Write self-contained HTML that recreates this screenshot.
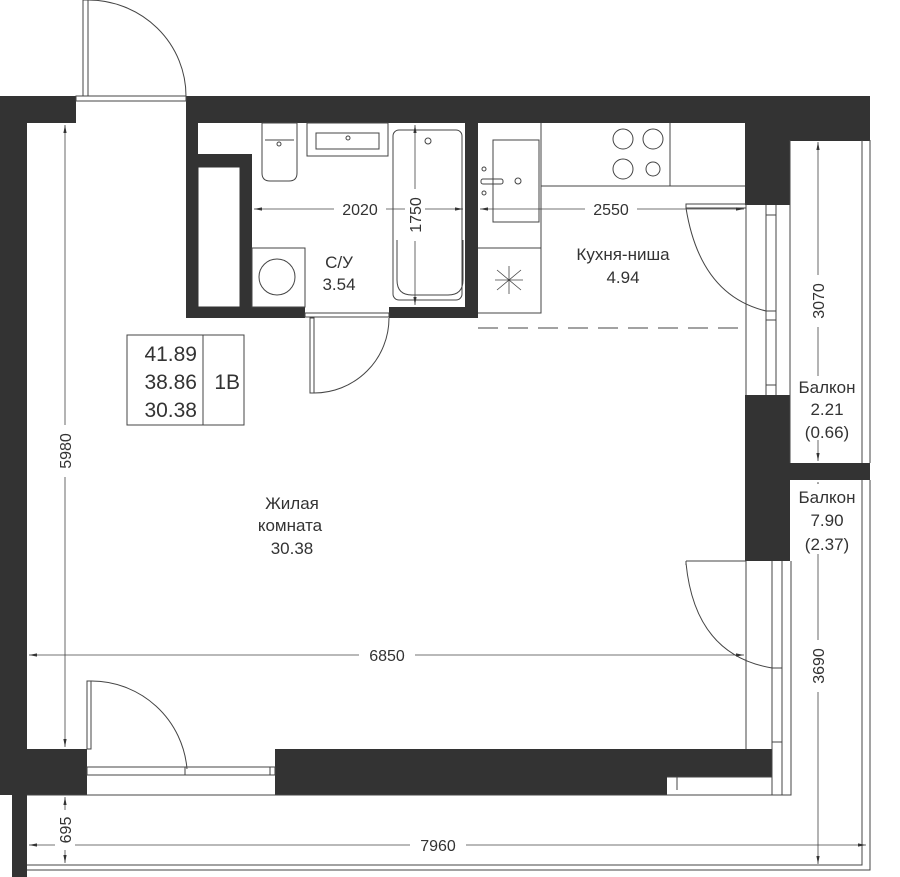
<!DOCTYPE html>
<html><head><meta charset="utf-8"><style>
html,body{margin:0;padding:0;background:#fff}
svg{display:block}
text{font-family:"Liberation Sans",sans-serif;fill:#333}
</style></head><body>
<svg width="900" height="877" viewBox="0 0 900 877" xmlns="http://www.w3.org/2000/svg">
<defs>
<marker id="a" viewBox="0 0 10 6" refX="10" refY="3" markerWidth="10" markerHeight="6" orient="auto-start-reverse"><path d="M0,1 L10,3 L0,5z" fill="#333"/></marker>
</defs>
<g fill="#333">
<rect x="0" y="96" width="76" height="27"/>
<rect x="0" y="96" width="27" height="654"/>
<rect x="186" y="96" width="684" height="27"/>
<rect x="745" y="96" width="125" height="45"/>
<rect x="745" y="96" width="45" height="109"/>
<rect x="745" y="395" width="45" height="166"/>
<rect x="790" y="463" width="80" height="17"/>
<rect x="0" y="749" width="87" height="46"/>
<rect x="275" y="749" width="497" height="28"/>
<rect x="275" y="749" width="392" height="46"/>
<rect x="12" y="795" width="15" height="82"/>
<rect x="186" y="96" width="12" height="222"/>
<rect x="186" y="307" width="119" height="11"/>
<rect x="389" y="307" width="89" height="11"/>
<rect x="465" y="96" width="13" height="222"/>
<rect x="186" y="154" width="66" height="13"/>
<rect x="240" y="154" width="12" height="153"/>
</g>
<g fill="none" stroke="#444" stroke-width="1">
<rect x="83" y="0" width="5" height="96"/>
<path d="M88,0 A98,96 0 0 1 186,96"/>
<rect x="76" y="96" width="110" height="5"/>
<rect x="305" y="313" width="84" height="4"/>
<rect x="310" y="318" width="4" height="75"/>
<path d="M314,393 A75,75 0 0 0 389,318"/>
<path d="M262,123 h35 v50 q0,8 -8,8 h-19 q-8,0 -8,-8z"/>
<path d="M265,140 h29"/>
<circle cx="279" cy="144" r="2"/>
<rect x="307" y="123" width="81" height="33"/>
<rect x="316" y="133" width="63" height="16"/>
<circle cx="348" cy="138" r="2"/>
<rect x="393" y="130" width="69" height="170" rx="6"/>
<path d="M397,240 v40 q0,15 15,15 h36 q15,0 15,-15 v-40"/>
<circle cx="428" cy="141" r="3"/>
<rect x="252" y="248" width="53" height="59"/>
<circle cx="277" cy="277" r="18"/>
<rect x="198" y="167" width="42" height="140" stroke="#333"/>
<path d="M541,123 V313 H478"/>
<path d="M541,186 H745"/>
<path d="M670,123 V186"/>
<path d="M478,248 H541"/>
<rect x="493" y="140" width="46" height="82"/>
<rect x="481" y="179" width="22" height="5" rx="2"/>
<circle cx="484" cy="169" r="2"/><circle cx="484" cy="193" r="2"/><circle cx="518" cy="181" r="3"/>
<circle cx="623" cy="139" r="10"/><circle cx="653" cy="139" r="10"/>
<circle cx="623" cy="169" r="10"/><circle cx="653" cy="169" r="7"/>
<path d="M497,270 l24,20 M497,290 l24,-20 M509,266 v28 M495,280 h28" stroke-width="0.8"/>
<path d="M478,328 H745" stroke-dasharray="20,10"/>
<rect x="686" y="204" width="60" height="4"/>
<path d="M686,208 Q700,295 766,311"/>
<path d="M746,205 V395 M766,205 V395 M776,205 V395 M790,140 V463"/>
<path d="M766,215 h10 M766,311 h10 M766,320 h10 M766,385 h10"/>
<path d="M746,561 V749 M772,561 V795 M782,561 V795 M791,561 V795 H27"/>
<path d="M772,668 h10 M772,742 h10"/>
<path d="M686,561 H746 M686,561 v4"/>
<path d="M686,563 Q695,655 772,668"/>
<rect x="87" y="681" width="4" height="68"/>
<path d="M91,681 A96,96 0 0 1 187,769"/>
<rect x="87" y="767" width="188" height="8"/>
<path d="M185,767 v8 M270,767 v8"/>
<path d="M667,777 H772 M677,777 V790"/>
<path d="M862,140 V463 M870,140 V463"/>
<path d="M862,480 V865 H27 M870,480 V870 H27"/>
<rect x="127" y="335" width="117" height="90"/>
<path d="M203,335 V425"/>
</g>
<g stroke="#444" stroke-width="0.8" fill="none">
<path d="M65,125 V747" marker-start="url(#a)" marker-end="url(#a)"/>
<path d="M29,655 H744" marker-start="url(#a)" marker-end="url(#a)"/>
<path d="M254,209 H463" marker-start="url(#a)" marker-end="url(#a)"/>
<path d="M415,125 V305" marker-start="url(#a)" marker-end="url(#a)"/>
<path d="M480,209 H744" marker-start="url(#a)" marker-end="url(#a)"/>
<path d="M818,142 V461" marker-start="url(#a)" marker-end="url(#a)"/>
<path d="M818,482 V864" marker-start="url(#a)" marker-end="url(#a)"/>
<path d="M65,797 V863" marker-start="url(#a)" marker-end="url(#a)"/>
<path d="M29,845 H866" marker-start="url(#a)" marker-end="url(#a)"/>
</g>
<g font-size="16" text-anchor="middle">
<rect x="334" y="199" width="52" height="20" fill="#fff"/><text x="360" y="215">2020</text>
<rect x="585" y="199" width="52" height="20" fill="#fff"/><text x="611" y="215">2550</text>
<rect x="359" y="645" width="56" height="20" fill="#fff"/><text x="387" y="661">6850</text>
<rect x="410" y="835" width="56" height="20" fill="#fff"/><text x="438" y="851">7960</text>
<rect x="405" y="189" width="20" height="52" fill="#fff"/><text transform="translate(421,215) rotate(-90)">1750</text>
<rect x="55" y="425" width="20" height="52" fill="#fff"/><text transform="translate(71,451) rotate(-90)">5980</text>
<rect x="808" y="275" width="20" height="52" fill="#fff"/><text transform="translate(824,301) rotate(-90)">3070</text>
<rect x="808" y="640" width="20" height="52" fill="#fff"/><text transform="translate(824,666) rotate(-90)">3690</text>
<rect x="55" y="810" width="20" height="40" fill="#fff"/><text transform="translate(71,830) rotate(-90)">695</text>
</g>
<g font-size="17" text-anchor="middle">
<text x="339" y="268">С/У</text>
<text x="339" y="290">3.54</text>
<text x="623" y="260">Кухня-ниша</text>
<text x="623" y="283">4.94</text>
<rect x="794" y="376" width="66" height="64" fill="#fff"/>
<text x="827" y="393">Балкон</text>
<text x="827" y="415">2.21</text>
<text x="827" y="438">(0.66)</text>
<rect x="794" y="484" width="66" height="70" fill="#fff"/>
<text x="827" y="503">Балкон</text>
<text x="827" y="526">7.90</text>
<text x="827" y="550">(2.37)</text>
<text x="292" y="509">Жилая</text>
<text x="290" y="531">комната</text>
<text x="292" y="554">30.38</text>
</g>
<g font-size="21" text-anchor="end">
<text x="197" y="361">41.89</text>
<text x="197" y="389">38.86</text>
<text x="197" y="417">30.38</text>
<text x="240" y="389">1В</text>
</g>
</svg>
</body></html>
